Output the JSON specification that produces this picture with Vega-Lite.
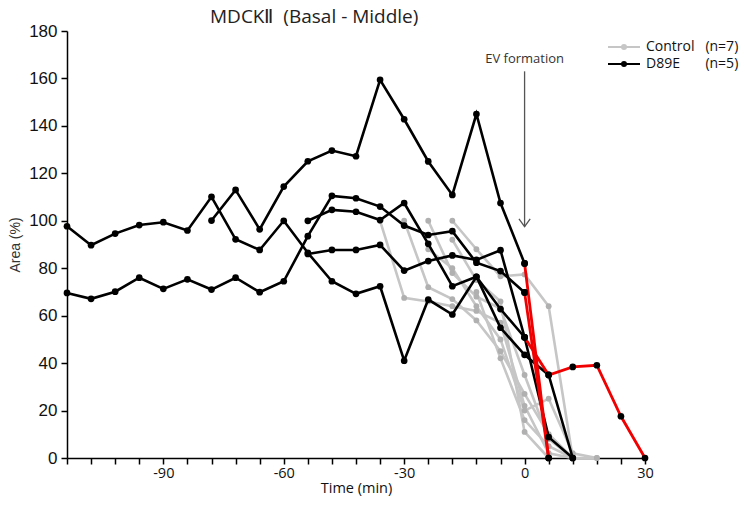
{
  "$schema": "https://vega.github.io/schema/vega-lite/v6.json",
  "width": 578,
  "height": 427,
  "autosize": {"type": "none"},
  "padding": {"left": 67, "top": 31, "right": 100, "bottom": 48},
  "background": "white",
  "title": {"text": "MDCKⅡ\u00a0 (Basal - Middle)", "anchor": "start", "frame": "group", "dx": 143, "dy": 9, "offset": 4, "font": "Open Sans", "fontSize": 19, "fontWeight": "normal", "color": "#222"},
  "config": {"view": {"stroke": null}},
  "datasets": {
    "series": [
      {"s":"A","g":"D89E","t":-114,"v":69.6},{"s":"A","g":"D89E","t":-108,"v":67.1},{"s":"A","g":"D89E","t":-102,"v":70.1},{"s":"A","g":"D89E","t":-96,"v":76},{"s":"A","g":"D89E","t":-90,"v":71.3},{"s":"A","g":"D89E","t":-84,"v":75.3},{"s":"A","g":"D89E","t":-78,"v":71},{"s":"A","g":"D89E","t":-72,"v":76},{"s":"A","g":"D89E","t":-66,"v":69.9},{"s":"A","g":"D89E","t":-60,"v":74.5},{"s":"A","g":"D89E","t":-54,"v":93.5},{"s":"A","g":"D89E","t":-48,"v":110.5},{"s":"A","g":"D89E","t":-42,"v":109.5},{"s":"A","g":"D89E","t":-36,"v":106},{"s":"A","g":"D89E","t":-30,"v":98},{"s":"A","g":"D89E","t":-24,"v":94},{"s":"A","g":"D89E","t":-18,"v":95.6},{"s":"A","g":"D89E","t":-12,"v":82.3},{"s":"A","g":"D89E","t":-6,"v":78.8},{"s":"A","g":"D89E","t":0,"v":69.8},
      {"s":"Ar","g":"EV","t":0,"v":69.8},{"s":"Ar","g":"EV","t":6,"v":0},
      {"s":"B","g":"D89E","t":-114,"v":97.7},{"s":"B","g":"D89E","t":-108,"v":89.7},{"s":"B","g":"D89E","t":-102,"v":94.6},{"s":"B","g":"D89E","t":-96,"v":98.2},{"s":"B","g":"D89E","t":-90,"v":99.4},{"s":"B","g":"D89E","t":-84,"v":95.9},{"s":"B","g":"D89E","t":-78,"v":110.1},{"s":"B","g":"D89E","t":-72,"v":92.2},{"s":"B","g":"D89E","t":-66,"v":87.7},{"s":"B","g":"D89E","t":-60,"v":100},{"s":"B","g":"D89E","t":-54,"v":86.5},{"s":"B","g":"D89E","t":-48,"v":74.5},{"s":"B","g":"D89E","t":-42,"v":69.2},{"s":"B","g":"D89E","t":-36,"v":72.4},{"s":"B","g":"D89E","t":-30,"v":41},{"s":"B","g":"D89E","t":-24,"v":66.8},{"s":"B","g":"D89E","t":-18,"v":60.5},{"s":"B","g":"D89E","t":-12,"v":76.4},{"s":"B","g":"D89E","t":-6,"v":62.8},{"s":"B","g":"D89E","t":0,"v":50.9},{"s":"B","g":"D89E","t":6,"v":8.8},{"s":"B","g":"D89E","t":12,"v":0},
      {"s":"C","g":"D89E","t":-78,"v":100.1},{"s":"C","g":"D89E","t":-72,"v":113},{"s":"C","g":"D89E","t":-66,"v":96.4},{"s":"C","g":"D89E","t":-60,"v":114.4},{"s":"C","g":"D89E","t":-54,"v":125.1},{"s":"C","g":"D89E","t":-48,"v":129.6},{"s":"C","g":"D89E","t":-42,"v":127.2},{"s":"C","g":"D89E","t":-36,"v":159.4},{"s":"C","g":"D89E","t":-30,"v":142.8},{"s":"C","g":"D89E","t":-24,"v":125},{"s":"C","g":"D89E","t":-18,"v":110.9},{"s":"C","g":"D89E","t":-12,"v":145},{"s":"C","g":"D89E","t":-6,"v":107.5},{"s":"C","g":"D89E","t":0,"v":82},
      {"s":"Cr","g":"EV","t":0,"v":82},{"s":"Cr","g":"EV","t":6,"v":0},
      {"s":"D","g":"D89E","t":-54,"v":100},{"s":"D","g":"D89E","t":-48,"v":104.6},{"s":"D","g":"D89E","t":-42,"v":103.8},{"s":"D","g":"D89E","t":-36,"v":100.3},{"s":"D","g":"D89E","t":-30,"v":107.5},{"s":"D","g":"D89E","t":-24,"v":90.3},{"s":"D","g":"D89E","t":-18,"v":72.4},{"s":"D","g":"D89E","t":-12,"v":76.4},{"s":"D","g":"D89E","t":-6,"v":54.9},{"s":"D","g":"D89E","t":0,"v":43.5},{"s":"D","g":"D89E","t":6,"v":35},{"s":"D","g":"D89E","t":12,"v":0},
      {"s":"E","g":"D89E","t":-54,"v":86},{"s":"E","g":"D89E","t":-48,"v":87.7},{"s":"E","g":"D89E","t":-42,"v":87.7},{"s":"E","g":"D89E","t":-36,"v":89.8},{"s":"E","g":"D89E","t":-30,"v":79},{"s":"E","g":"D89E","t":-24,"v":83},{"s":"E","g":"D89E","t":-18,"v":85.4},{"s":"E","g":"D89E","t":-12,"v":83.5},{"s":"E","g":"D89E","t":-6,"v":87.6},{"s":"E","g":"D89E","t":0,"v":50.9},
      {"s":"Er","g":"EV","t":0,"v":50.9},{"s":"Er","g":"EV","t":6,"v":35},{"s":"Er","g":"EV","t":12,"v":38.4},{"s":"Er","g":"EV","t":18,"v":39.1},{"s":"Er","g":"EV","t":24,"v":17.6},{"s":"Er","g":"EV","t":30,"v":0},
      {"s":"G1","g":"Control","t":-36,"v":100},{"s":"G1","g":"Control","t":-30,"v":67.5},{"s":"G1","g":"Control","t":-24,"v":66},{"s":"G1","g":"Control","t":-18,"v":64},{"s":"G1","g":"Control","t":-12,"v":62},{"s":"G1","g":"Control","t":-6,"v":57},{"s":"G1","g":"Control","t":0,"v":22},{"s":"G1","g":"Control","t":6,"v":2},{"s":"G1","g":"Control","t":12,"v":0},
      {"s":"G2","g":"Control","t":-30,"v":100},{"s":"G2","g":"Control","t":-24,"v":72},{"s":"G2","g":"Control","t":-18,"v":67},{"s":"G2","g":"Control","t":-12,"v":58},{"s":"G2","g":"Control","t":-6,"v":45},{"s":"G2","g":"Control","t":0,"v":27},{"s":"G2","g":"Control","t":6,"v":10},{"s":"G2","g":"Control","t":12,"v":0},
      {"s":"G3","g":"Control","t":-24,"v":100},{"s":"G3","g":"Control","t":-18,"v":78},{"s":"G3","g":"Control","t":-12,"v":68},{"s":"G3","g":"Control","t":-6,"v":63},{"s":"G3","g":"Control","t":0,"v":35},{"s":"G3","g":"Control","t":6,"v":8},{"s":"G3","g":"Control","t":12,"v":0},
      {"s":"G4","g":"Control","t":-18,"v":100},{"s":"G4","g":"Control","t":-12,"v":88},{"s":"G4","g":"Control","t":-6,"v":76.6},{"s":"G4","g":"Control","t":0,"v":77.4},{"s":"G4","g":"Control","t":6,"v":64},{"s":"G4","g":"Control","t":12,"v":0},
      {"s":"G5","g":"Control","t":-24,"v":88},{"s":"G5","g":"Control","t":-18,"v":80},{"s":"G5","g":"Control","t":-12,"v":64},{"s":"G5","g":"Control","t":-6,"v":50},{"s":"G5","g":"Control","t":0,"v":20},{"s":"G5","g":"Control","t":6,"v":25},{"s":"G5","g":"Control","t":12,"v":2},{"s":"G5","g":"Control","t":18,"v":0},
      {"s":"G6","g":"Control","t":-18,"v":92},{"s":"G6","g":"Control","t":-12,"v":75},{"s":"G6","g":"Control","t":-6,"v":66},{"s":"G6","g":"Control","t":0,"v":11},{"s":"G6","g":"Control","t":6,"v":0},
      {"s":"G7","g":"Control","t":-12,"v":70},{"s":"G7","g":"Control","t":-6,"v":42},{"s":"G7","g":"Control","t":0,"v":16},{"s":"G7","g":"Control","t":6,"v":5},{"s":"G7","g":"Control","t":12,"v":0},{"s":"G7","g":"Control","t":18,"v":0}
    ],
    "arrow": [{"t":0,"v":163},{"t":0,"v":97.5}],
    "head": [{"t":-1.4,"v":100.8},{"t":0,"v":97.5},{"t":1.4,"v":100.8}],
    "note": [{"t":0,"v":168,"txt":"EV formation"}]
  },
  "encoding": {
    "x": {"field": "t", "type": "quantitative",
      "scale": {"domain": [-114, 30], "nice": false, "zero": false},
      "axis": {"values": [-114,-108,-102,-96,-90,-84,-78,-72,-66,-60,-54,-48,-42,-36,-30,-24,-18,-12,-6,0,6,12,18,24,30],
        "labelExpr": "datum.value % 30 === 0 ? '' + datum.value : ''",
        "grid": false, "title": "Time (min)", "titleFont": "Open Sans", "titleFontSize": 14.5, "titleFontWeight": "normal", "titleColor": "#111", "titlePadding": 2,
        "labelFont": "Open Sans", "labelFontSize": 14.5, "labelColor": "#111", "labelPadding": 2, "labelOverlap": false, "labelBound": false, "labelFlush": false,
        "tickSize": 6, "tickColor": "#000", "tickWidth": 1.5, "domainColor": "#000", "domainWidth": 1.5}},
    "y": {"field": "v", "type": "quantitative",
      "scale": {"domain": [0, 180], "nice": false},
      "axis": {"values": [0,20,40,60,80,100,120,140,160,180], "grid": false, "title": "Area (%)", "titleFont": "Liberation Sans", "titleFontSize": 14, "titleFontWeight": "normal", "titleColor": "#333", "titlePadding": 6,
        "labelFont": "Liberation Sans", "labelFontSize": 17, "labelColor": "#111", "labelPadding": 4,
        "tickSize": 6, "tickColor": "#000", "tickWidth": 1.5, "domainColor": "#000", "domainWidth": 1.5}}
  },
  "layer": [
    {"data": {"name": "series"}, "transform": [{"filter": "datum.g === 'Control'"}],
     "mark": {"type": "line", "strokeWidth": 2.6},
     "encoding": {"detail": {"field": "s"},
       "color": {"field": "g", "type": "nominal",
         "scale": {"domain": ["Control", "D89E", "EV"], "range": ["#c6c6c6", "#000000", "#f00000"]},
         "legend": {"orient": "none", "legendX": 548, "legendY": 7, "padding": 0, "title": null,
           "values": ["Control", "D89E"],
           "labelExpr": "datum.label === 'Control' ? 'Control\u00a0\u00a0 (n=7)' : 'D89E\u00a0\u00a0\u00a0\u00a0\u00a0\u00a0\u00a0(n=5)'",
           "symbolType": "M-2,0H2M-0.25,0a0.25,0.25 0 1,0 0.5,0a0.25,0.25 0 1,0 -0.5,0",
           "symbolSize": 256, "symbolStrokeWidth": 2, "labelOffset": 13, "rowPadding": 1,
           "labelFont": "Open Sans", "labelFontSize": 14, "labelColor": "#111",
           "encode": {"symbols": {"update": {"fill": {"scale": "color", "field": "value"}, "opacity": {"value": 1}}}}}}}},
    {"data": {"name": "series"}, "transform": [{"filter": "datum.g === 'Control'"}],
     "mark": {"type": "point", "filled": true, "size": 34, "opacity": 1, "color": "#b0b0b0"}},
    {"data": {"name": "series"}, "transform": [{"filter": "datum.g === 'D89E'"}],
     "mark": {"type": "line", "strokeWidth": 2.6},
     "encoding": {"detail": {"field": "s"}, "color": {"field": "g", "type": "nominal"}}},
    {"data": {"name": "series"}, "transform": [{"filter": "datum.g === 'EV'"}],
     "mark": {"type": "line", "strokeWidth": 2.8},
     "encoding": {"detail": {"field": "s"}, "color": {"field": "g", "type": "nominal"}}},
    {"data": {"name": "series"}, "transform": [{"filter": "datum.g !== 'Control'"}],
     "mark": {"type": "point", "filled": true, "size": 45, "opacity": 1, "color": "#000"}},
    {"data": {"name": "arrow"}, "mark": {"type": "line", "color": "#555", "strokeWidth": 1.3}, "encoding": {}},
    {"data": {"name": "head"}, "mark": {"type": "line", "color": "#555", "strokeWidth": 1.3}, "encoding": {}},
    {"data": {"name": "note"}, "mark": {"type": "text", "font": "Open Sans", "fontSize": 13, "color": "#333"}, "encoding": {"text": {"field": "txt"}}}
  ]
}
